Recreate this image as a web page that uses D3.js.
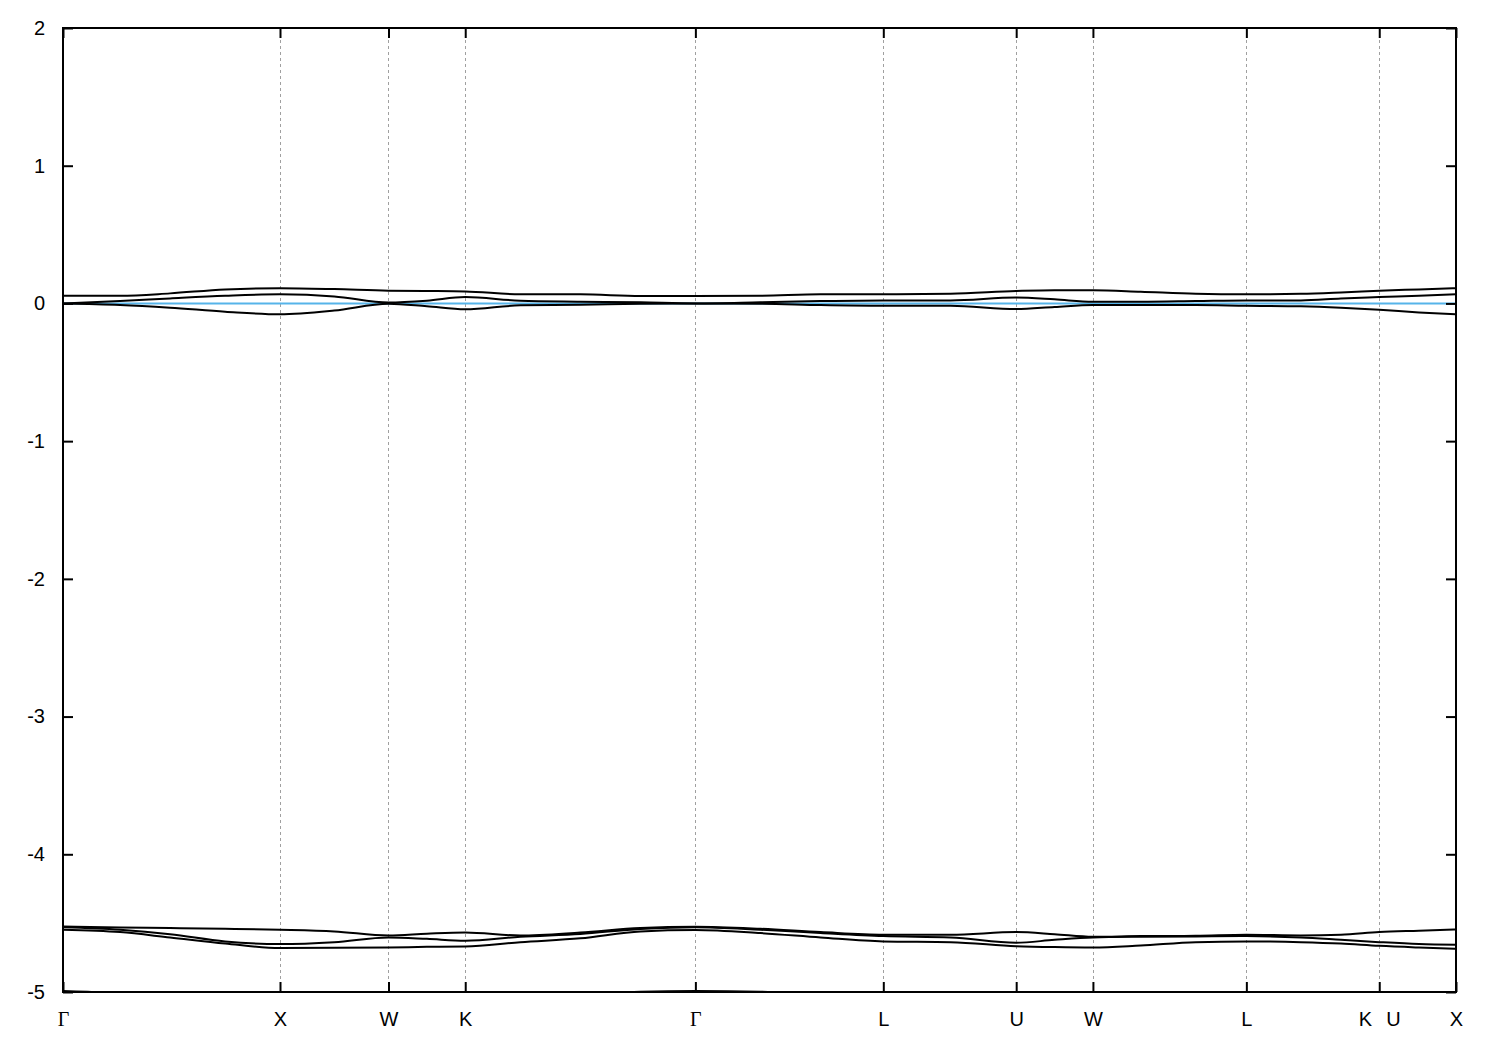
<!DOCTYPE html>
<html>
<head>
<meta charset="utf-8">
<script src="https://cdn.jsdelivr.net/npm/d3@7"></script>
<style>
  html, body { margin: 0; padding: 0; background: #ffffff; }
  svg { display: block; }
</style>
</head>
<body>
<svg id="chart" width="1500" height="1050"></svg>
<script>
// k-path sample positions (units of 2π/a along Γ-X-W-K-Γ-L-U-W-L-K|U-X)
const kPath = [0, 0.2629, 0.4934, 0.7471, 1.0, 1.25, 1.5, 1.6768, 1.8536, 2.1075, 2.3842, 2.6609, 2.9142,
  3.2143, 3.4910, 3.7802, 4.0905, 4.3926, 4.5694, 4.7462, 4.9667, 5.2203, 5.4533, 5.7045, 5.8890, 6.0657, 6.2487, 6.4194];

// bands near the Fermi level (eV)
const bandA = [0.055, 0.055, 0.073, 0.102, 0.111, 0.104, 0.092, 0.090, 0.087, 0.066, 0.066, 0.054, 0.054,
  0.056, 0.066, 0.066, 0.070, 0.090, 0.096, 0.096, 0.085, 0.070, 0.066, 0.070, 0.080, 0.092, 0.102, 0.111];
const bandB = [0.0, 0.017, 0.036, 0.055, 0.066, 0.051, 0.007, 0.020, 0.046, 0.020, 0.013, 0.008, 0.0,
  0.008, 0.017, 0.022, 0.022, 0.043, 0.030, 0.012, 0.012, 0.017, 0.022, 0.022, 0.036, 0.046, 0.055, 0.066];
const bandC = [0.0, -0.011, -0.031, -0.060, -0.079, -0.052, -0.002, -0.021, -0.043, -0.014, -0.010, -0.002, 0.0,
  -0.002, -0.012, -0.017, -0.017, -0.041, -0.026, -0.012, -0.012, -0.012, -0.017, -0.021, -0.031, -0.046, -0.065, -0.079];

// bands around -4.6 eV
const bandD = [-4.524, -4.532, -4.536, -4.541, -4.548, -4.560, -4.590, -4.577, -4.568, -4.590, -4.568, -4.536, -4.526,
  -4.541, -4.565, -4.584, -4.584, -4.565, -4.580, -4.599, -4.594, -4.592, -4.584, -4.589, -4.584, -4.565, -4.555, -4.546];
const bandE = [-4.530, -4.548, -4.580, -4.633, -4.652, -4.638, -4.604, -4.614, -4.628, -4.599, -4.578, -4.543, -4.530,
  -4.548, -4.572, -4.594, -4.604, -4.643, -4.621, -4.604, -4.599, -4.597, -4.594, -4.604, -4.621, -4.638, -4.652, -4.657];
const bandF = [-4.548, -4.565, -4.604, -4.648, -4.681, -4.679, -4.677, -4.672, -4.670, -4.638, -4.610, -4.560, -4.550,
  -4.572, -4.604, -4.633, -4.638, -4.667, -4.674, -4.677, -4.662, -4.638, -4.633, -4.638, -4.648, -4.665, -4.677, -4.686];
// lowest band, only touching the bottom edge near Γ
const bandG = [-4.993, -5.015, -5.1, -5.2, -5.3, -5.3, -5.3, -5.3, -5.2, -5.1, -5.03, -4.998, -4.993,
  -4.998, -5.03, -5.1, -5.2, -5.3, -5.3, -5.3, -5.3, -5.2, -5.1, -5.2, -5.3, -5.3, -5.3, -5.3];

const bands = [bandA, bandB, bandC, bandD, bandE, bandF, bandG];

// high-symmetry points
const kTicks = [0, 1.0, 1.5, 1.8536, 2.9142, 3.7802, 4.3926, 4.7462, 5.4533, 6.0657, 6.4194];
const kLabels = ["Γ", "X", "W", "K", "Γ", "L", "U", "W", "L", "K\u2002\u2009U", "X"];
const yTicks = [-5, -4, -3, -2, -1, 0, 1, 2];
const yTickLabels = ["-5", "-4", "-3", "-2", "-1", "0", "1", "2"];
const fermiLevel = 0;

const mLeft = 63, mRight = 1456, mTop = 28, mBottom = 992;
const sans = '"Liberation Sans", Arial, sans-serif';
const serif = '"Liberation Serif", "Times New Roman", serif';
const svg = d3.select("#chart");

const x = d3.scaleLinear().domain([0, 6.4194]).range([mLeft, mRight]);
const y = d3.scaleLinear().domain([-5, 2]).range([mBottom, mTop]);

svg.append("defs").append("clipPath").attr("id", "plotclip")
  .append("rect").attr("x", mLeft).attr("y", mTop).attr("width", mRight - mLeft).attr("height", mBottom - mTop);

// vertical dashed grid lines at interior high-symmetry points
svg.append("g").selectAll("line")
  .data(kTicks.slice(1, -1))
  .join("line")
  .attr("x1", d => Math.round(x(d)) + 0.5).attr("x2", d => Math.round(x(d)) + 0.5)
  .attr("y1", mTop).attr("y2", mBottom)
  .attr("stroke", "#a0a0a0").attr("stroke-width", 1)
  .attr("stroke-dasharray", "3,3");

// Fermi level
svg.append("line")
  .attr("x1", mLeft).attr("x2", mRight)
  .attr("y1", y(fermiLevel)).attr("y2", y(fermiLevel))
  .attr("stroke", "#56b4e9").attr("stroke-width", 2);

// bands
const line = d3.line()
  .x((d, i) => x(kPath[i]))
  .y(d => y(d))
  .curve(d3.curveMonotoneX);

svg.append("g").attr("clip-path", "url(#plotclip)")
  .selectAll("path")
  .data(bands)
  .join("path")
  .attr("d", line)
  .attr("fill", "none")
  .attr("stroke", "#000")
  .attr("stroke-width", 2);

// axes
const axisL = d3.axisLeft(y).tickValues(yTicks).tickFormat((d, i) => yTickLabels[i])
  .tickSize(-10).tickPadding(18);
const gL = svg.append("g").attr("transform", `translate(${mLeft},0)`).call(axisL);

const axisR = d3.axisRight(y).tickValues(yTicks).tickFormat("").tickSize(-10);
const gR = svg.append("g").attr("transform", `translate(${mRight},0)`).call(axisR);

const axisB = d3.axisBottom(x).tickValues(kTicks).tickFormat((d, i) => kLabels[i])
  .tickSize(-10).tickPadding(20);
const gB = svg.append("g").attr("transform", `translate(0,${mBottom})`).call(axisB);

const axisT = d3.axisTop(x).tickValues(kTicks).tickFormat("").tickSize(-10);
const gT = svg.append("g").attr("transform", `translate(0,${mTop})`).call(axisT);

[gL, gR, gB, gT].forEach(g => {
  g.select(".domain").remove();
  g.selectAll(".tick line").attr("stroke", "#000").attr("stroke-width", 2);
  g.selectAll("text").attr("font-size", 20).attr("fill", "#000").style("font-family", sans);
});
gB.selectAll(".tick text")
  .style("font-family", (d, i) => kLabels[i] === "Γ" ? serif : sans)
  .style("white-space", "pre");

// frame
svg.append("rect")
  .attr("x", mLeft).attr("y", mTop).attr("width", mRight - mLeft).attr("height", mBottom - mTop)
  .attr("fill", "none").attr("stroke", "#000").attr("stroke-width", 2);
</script>
</body>
</html>
